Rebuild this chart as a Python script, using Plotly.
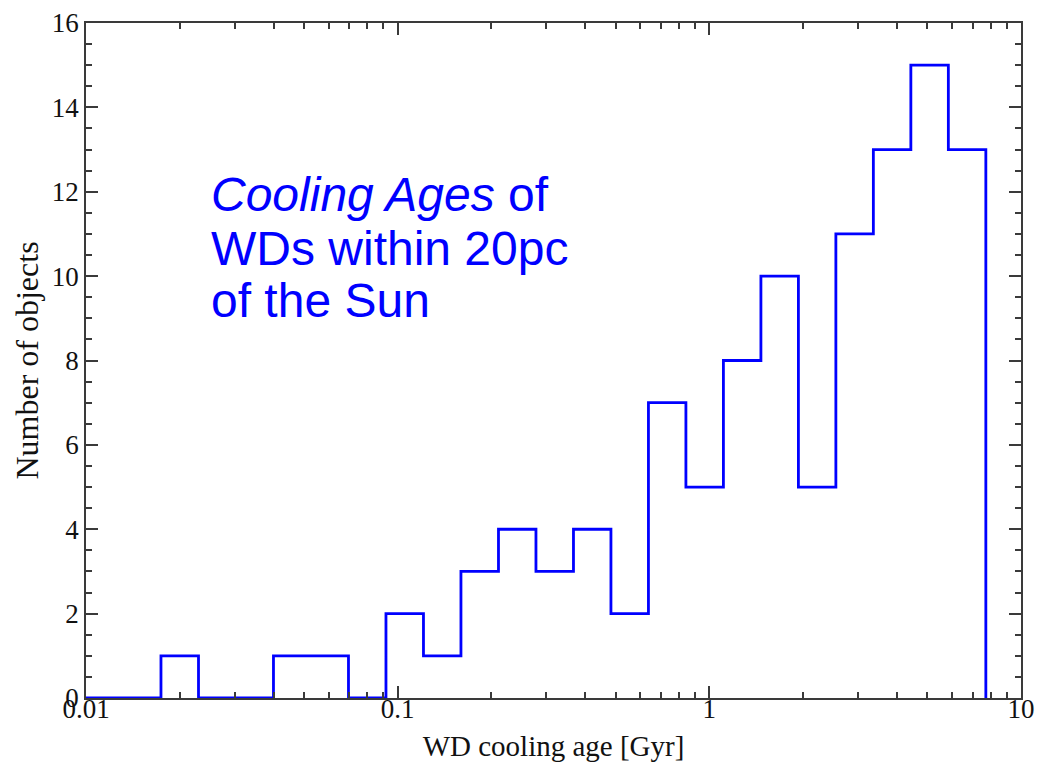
import plotly.graph_objects as go

# Bin edges (Gyr), log-spaced
bin_edges = [0.01, 0.01319, 0.01740, 0.02296, 0.03029, 0.03995, 0.05270, 0.06953,
             0.09172, 0.1210, 0.1596, 0.2106, 0.2778, 0.3665, 0.4834, 0.6377,
             0.8411, 1.1096, 1.4638, 1.9311, 2.5468, 3.3597, 4.4319, 5.8466, 7.7126]
# Counts per bin
counts = [0, 0, 1, 0, 0, 1, 1, 0, 2, 1, 3, 4, 3, 4, 2, 7, 5, 8, 10, 5, 11, 13, 15, 13]

x_tick_vals = [0.01, 0.1, 1, 10]
x_tick_text = ["0.01", "0.1", "1", "10"]
y_tick_vals = [0, 2, 4, 6, 8, 10, 12, 14, 16]

title_lines = ["<i>Cooling Ages</i> of", "WDs within 20pc", "of the Sun"]

step_x = list(bin_edges)
step_y = list(counts) + [0]

fig = go.Figure()
fig.add_trace(go.Scatter(
    x=step_x, y=step_y, mode="lines", line=dict(color="#0000ff", width=2.8, shape="hv"),
    showlegend=False, hoverinfo="skip"))

axis_col = "#3a3a3a"
tick_font = dict(family="Liberation Serif", size=27, color="#111")

fig.update_xaxes(
    type="log", range=[-2, 1], showgrid=False, zeroline=False, automargin=False,
    showline=True, linecolor=axis_col, linewidth=1.5, mirror="allticks",
    ticks="inside", ticklen=12, tickwidth=1.5, tickcolor=axis_col,
    tickvals=x_tick_vals, ticktext=x_tick_text, tickfont=tick_font,
    ticklabelstandoff=-14,
    minor=dict(ticks="inside", ticklen=6, tickwidth=1.5, tickcolor=axis_col, dtick="D1", showgrid=False),
    title=dict(text="WD cooling age [Gyr]", font=dict(family="Liberation Serif", size=29, color="#111"), standoff=14),
)
fig.update_yaxes(
    range=[0, 16], showgrid=False, zeroline=False, automargin=False,
    showline=True, linecolor=axis_col, linewidth=1.5, mirror="allticks",
    ticks="inside", ticklen=12, tickwidth=1.5, tickcolor=axis_col,
    tickvals=y_tick_vals, tickfont=tick_font,
    minor=dict(ticks="inside", ticklen=6, tickwidth=1.5, tickcolor=axis_col, dtick=0.5, showgrid=False),
    title=dict(text="Number of objects", font=dict(family="Liberation Serif", size=32, color="#111"), standoff=4),
)

# text annotation lines
line_y = [0.7456, 0.6656, 0.5886]
for txt, yy in zip(title_lines, line_y):
    fig.add_annotation(text=txt, xref="paper", yref="paper", x=0.1318, y=yy,
                       xanchor="left", yanchor="middle", showarrow=False,
                       font=dict(family="Liberation Sans", size=48, color="#0000ff"))

fig.update_layout(
    width=1041, height=762,
    margin=dict(l=86, r=20, t=23, b=64, autoexpand=False),
    paper_bgcolor="white", plot_bgcolor="white",
)

fig.write_html("out.html")
